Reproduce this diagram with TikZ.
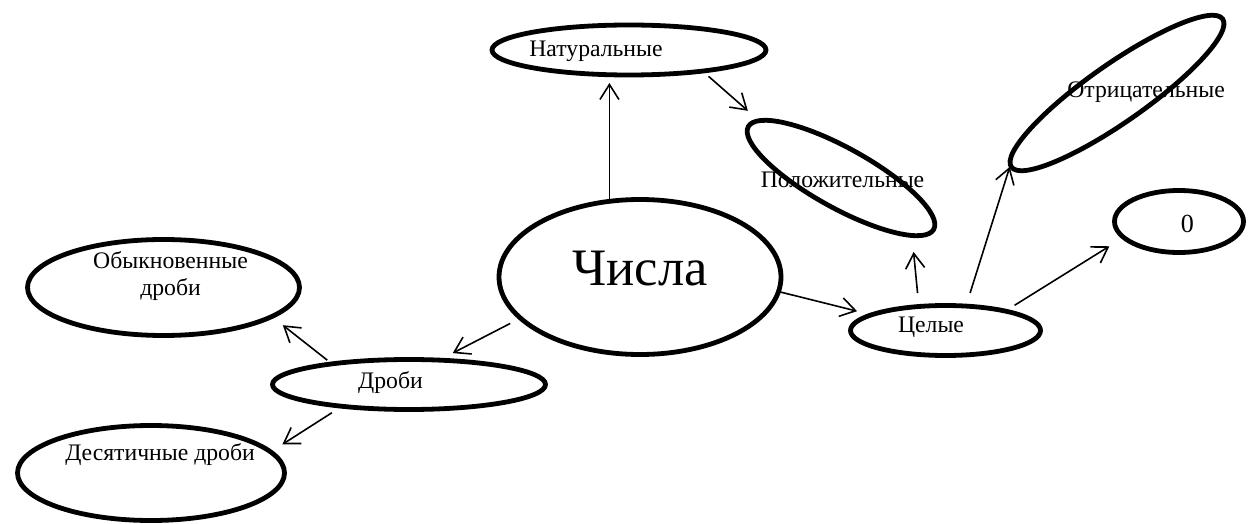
\documentclass[tikz,border=0pt]{standalone}
\usepackage{fontspec}
\newfontfamily\tnr{Liberation Serif}
\usetikzlibrary{shapes.geometric,arrows.meta}
\begin{document}
\begin{tikzpicture}[x=1pt,y=-1pt,
  ell/.style={ellipse, draw, line width=4.8pt, inner sep=0pt, outer sep=0pt},
  lbl/.style={inner sep=0pt, anchor=base, font=\tnr\fontsize{30}{34}\selectfont, scale=0.79},
  arr/.style={line width=1.6pt, -{Straight Barb[length=15pt,width=19pt]}}]
\useasboundingbox (0,0) rectangle (1248,524);
% texts (under the outlines)
\node[lbl] (natT) at (596,57) {Натуральные};
\node[lbl, scale=2.22] (chislaT) at (640,285) {Числа};
\node[lbl] (polT) at (842.5,188) {Положительные};
\node[lbl] (otrT) at (1146,98) {Отрицательные};
\node[lbl] (celyeT) at (931,332) {Целые};
\node[lbl, scale=1.1] (zeroT) at (1187.5,232.7) {0};
\node[lbl] (drobiT) at (390.5,388) {Дроби};
\node[lbl] (obykT) at (170.5,268) {Обыкновенные};
\node[lbl] (obykT2) at (170.5,295) {дроби};
\node[lbl] (desyatT) at (160,460) {Десятичные дроби};
% outlines
\node[ell, minimum width=274pt, minimum height=50pt] (nat) at (629,50) {};
\node[ell, minimum width=282pt, minimum height=155pt] (chisla) at (640,277) {};
\node[ell, minimum width=212pt, minimum height=60pt, rotate=-29] (pol) at (841,178) {};
\node[ell, minimum width=258pt, minimum height=58pt, rotate=35] (otr) at (1117,93) {};
\node[ell, minimum width=190pt, minimum height=50pt] (celye) at (945.5,330.5) {};
\node[ell, minimum width=129pt, minimum height=62pt] (zero) at (1179,221.5) {};
\node[ell, minimum width=273pt, minimum height=50pt] (drobi) at (409,384.5) {};
\node[ell, minimum width=272pt, minimum height=96pt] (obyk) at (163.5,287.5) {};
\node[ell, minimum width=267pt, minimum height=95pt] (desyat) at (151,473) {};
% connectors
\draw[arr, shorten >=8pt] (chisla.112) -- (chisla.112 |- nat.south);
\draw[arr, shorten <=8pt, shorten >=15pt] (nat.-16) -- (pol.174);
\draw[arr, shorten >=15pt] (chisla.-6) -- (celye.168);
\draw[arr, shorten <=13.5pt, shorten >=16.5pt] (celye.138) -- (pol.-10);
\draw[arr, shorten <=13.7pt, shorten >=2pt] (celye.50) -- (otr.179);
\draw[arr, shorten <=11pt, shorten >=16.8pt] (celye.18) -- (zero.196);
\draw[arr, shorten <=11.5pt, shorten >=15.3pt] (chisla.199) -- (drobi.39);
\draw[arr, shorten <=6pt, shorten >=14pt] (drobi.165) -- (obyk.-15);
\draw[arr, shorten <=12pt, shorten >=14pt] (drobi.198) -- (desyat.10);
\end{tikzpicture}
\end{document}
